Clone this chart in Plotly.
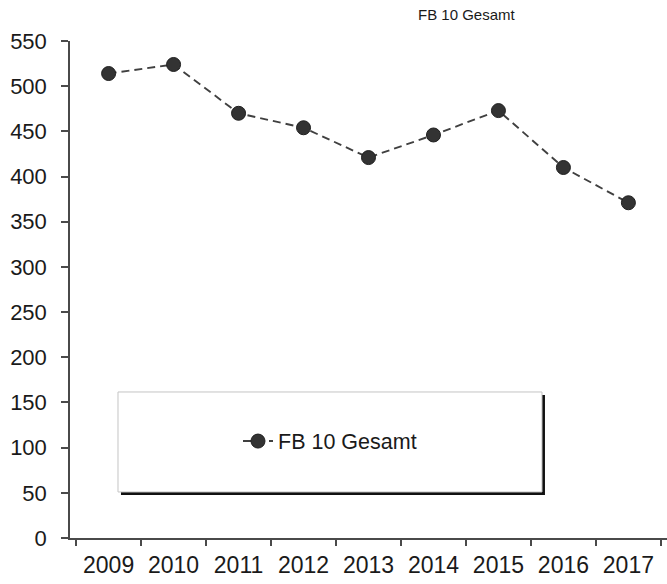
import plotly.graph_objects as go

# Students in FB 10, per year
years = ["2009", "2010", "2011", "2012", "2013", "2014", "2015", "2016", "2017"]
totals = [514, 524, 470, 454, 421, 446, 473, 410, 371]
series_name = "FB 10 Gesamt"
y_ticks = [0, 50, 100, 150, 200, 250, 300, 350, 400, 450, 500, 550]

FONT = "Liberation Sans, Arial, sans-serif"
AXIS = "#4a4a4a"

fig = go.Figure()
fig.add_trace(go.Scatter(
    x=years, y=totals, name=series_name, mode="lines+markers",
    line=dict(color="#404040", width=1.9, dash="8px,5px"),
    marker=dict(size=14, color="#333333", line=dict(color="#1f1f1f", width=1)),
))

# legend frame with a drop shadow
fig.add_shape(type="rect", xref="paper", yref="paper",
              x0=0.0854, x1=0.7956, y0=0.0865, y1=0.2877,
              fillcolor="#111111", line=dict(width=0), layer="below")
fig.add_shape(type="rect", xref="paper", yref="paper",
              x0=0.0804, x1=0.7906, y0=0.0926, y1=0.2938,
              fillcolor="white", line=dict(color="#c4c4c4", width=1), layer="below")

fig.add_annotation(text=series_name, xref="paper", yref="paper",
                   x=0.665, y=1.054, xanchor="center", yanchor="middle",
                   showarrow=False, font=dict(family=FONT, size=15, color="#1a1a1a"))

fig.update_layout(
    width=667, height=584,
    margin=dict(l=70, r=0, t=41, b=46),
    paper_bgcolor="white", plot_bgcolor="white",
    font=dict(family=FONT, size=21, color="#1a1a1a"),
    showlegend=True,
    legend=dict(x=0.4355, y=0.195, xanchor="center", yanchor="middle",
                bgcolor="rgba(0,0,0,0)", itemwidth=30,
                font=dict(family=FONT, size=21.5, color="#1a1a1a")),
)
fig.update_xaxes(
    type="category", showgrid=False, showline=True, linecolor=AXIS, linewidth=1.5,
    ticks="outside", tickson="boundaries", ticklen=6, tickcolor=AXIS, tickwidth=1.5,
    zeroline=False, tickfont=dict(size=23), ticklabelstandoff=6,
)
fig.update_yaxes(
    range=[0, 550], tickvals=y_ticks, showgrid=False, showline=True,
    linecolor=AXIS, linewidth=1.5, ticks="outside", ticklen=7, tickcolor=AXIS,
    tickwidth=1.5, zeroline=False, tickfont=dict(size=22), ticklabelstandoff=10,
)

fig.write_html("out.html")
